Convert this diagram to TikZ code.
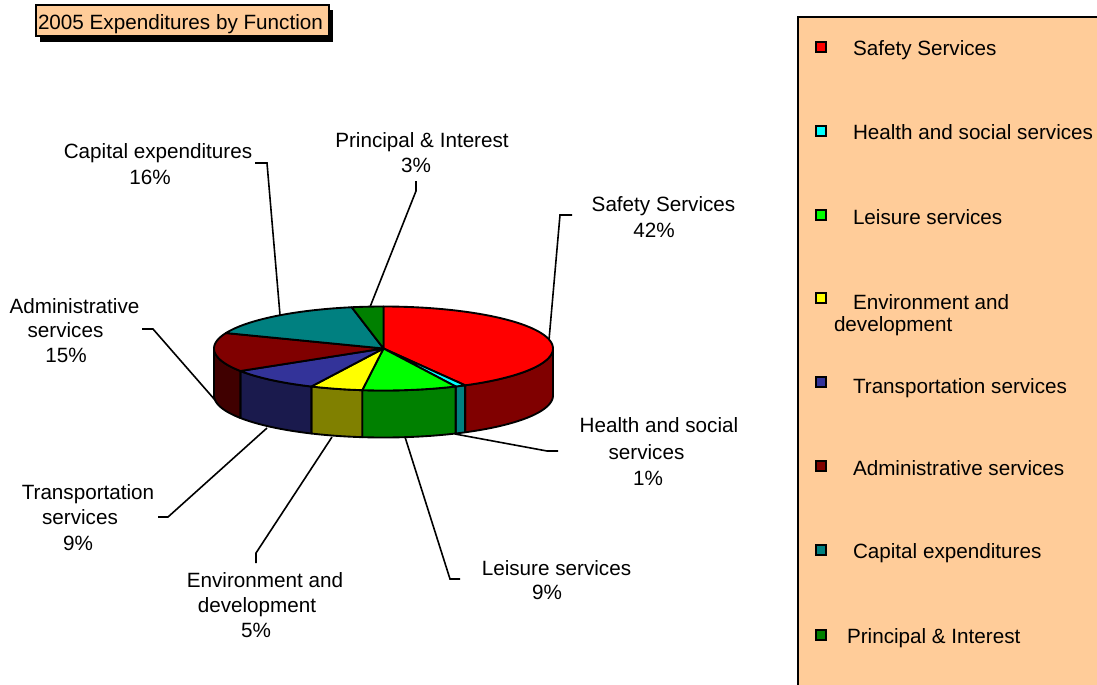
\documentclass[tikz,border=0pt]{standalone}
\usepackage{fontspec}
\setmainfont{Liberation Sans}
\definecolor{peach}{HTML}{FFCC99}
\definecolor{cSafT}{HTML}{FF0000}\definecolor{cSafS}{HTML}{800000}
\definecolor{cHeaT}{HTML}{00FFFF}\definecolor{cHeaS}{HTML}{008080}
\definecolor{cLeiT}{HTML}{00FF00}\definecolor{cLeiS}{HTML}{008000}
\definecolor{cEnvT}{HTML}{FFFF00}\definecolor{cEnvS}{HTML}{808000}
\definecolor{cTraT}{HTML}{333399}\definecolor{cTraS}{HTML}{1A1A4D}
\definecolor{cAdmT}{HTML}{800000}\definecolor{cAdmS}{HTML}{400000}
\definecolor{cCapT}{HTML}{008080}
\definecolor{cPriT}{HTML}{008000}
\def\pcx{383.5}\def\pcy{348.5}\def\pra{169.5}\def\prb{42}\def\pdep{47}
\newcommand\mypieside[3]{%
  \filldraw[fill=#3,pieedge] plot[domain=#1:#2,samples=40] ({\pcx+\pra*cos(\x)},{\pcy-\prb*sin(\x)})
    -- plot[domain=#2:#1,samples=40] ({\pcx+\pra*cos(\x)},{\pcy+\pdep-\prb*sin(\x)}) -- cycle;}
\newcommand\mypietop[3]{%
  \filldraw[fill=#3,pieedge] (\pcx,\pcy) -- plot[domain=#1:#2,samples=60] ({\pcx+\pra*cos(\x)},{\pcy-\prb*sin(\x)}) -- cycle;}
\begin{document}
\begin{tikzpicture}[x=0.75pt,y=-0.75pt,
  every node/.style={font=\fontsize{15.5pt}{18pt}\selectfont, inner sep=0pt, outer sep=0pt},
  lbl/.style={anchor=base},
  lgtext/.style={anchor=base west},
  lgmark/.style={draw=black, line width=1.5pt, minimum width=7.5pt, minimum height=7.5pt},
  pieedge/.style={draw=black, line width=1.4pt, line join=round},
  leader/.style={draw=black, line width=1.2pt}]
\useasboundingbox (0,0) rectangle (1097,685);
\clip (0,0) rectangle (1097,685);
\fill[white] (0,0) rectangle (1097,685);

% title
\fill[black] (40,10) rectangle (333,42);
\draw[fill=peach, line width=1.5pt] (36,5) rectangle (329,36.5);
\node[lgtext] (title) at (38,29.5) {2005 Expenditures by Function};

% legend
\draw[fill=peach, line width=1.5pt] (798,17) rectangle (1105,695);
\node[lgmark, fill=cSafT] (m1) at (821,47) {};
\node[lgmark, fill=cHeaT] (m2) at (821,131) {};
\node[lgmark, fill=cLeiT] (m3) at (821,215) {};
\node[lgmark, fill=cEnvT] (m4) at (821,298) {};
\node[lgmark, fill=cTraT] (m5) at (821,382) {};
\node[lgmark, fill=cAdmT] (m6) at (821,466) {};
\node[lgmark, fill=cCapT] (m7) at (821,550) {};
\node[lgmark, fill=cPriT] (m8) at (821,635) {};
\node[lgtext] (t1) at (853,56) {Safety Services};
\node[lgtext] (t2) at (853,140) {Health and social services};
\node[lgtext] (t3) at (853,224) {Leisure services};
\node[lgtext] (t4a) at (853,309) {Environment and};
\node[lgtext] (t4b) at (834,331) {development};
\node[lgtext] (t5) at (853,393) {Transportation services};
\node[lgtext] (t6) at (853,475) {Administrative services};
\node[lgtext] (t7) at (853,558) {Capital expenditures};
\node[lgtext] (t8) at (847,643) {Principal \& Interest};

% labels
\node[lbl] (capA) at (158,159) {Capital expenditures};
\node[lbl] (capB) at (150,185) {16\%};
\node[lbl] (priA) at (422,147) {Principal \& Interest};
\node[lbl] (priB) at (416,172) {3\%};
\node[lbl] (safA) at (663.5,211) {Safety Services};
\node[lbl] (safB) at (654,237) {42\%};
\node[lbl] (heaA) at (659,432) {Health and social};
\node[lbl] (heaB) at (646.5,459) {services};
\node[lbl] (heaC) at (648,485) {1\%};
\node[lbl] (leiA) at (556.5,575) {Leisure services};
\node[lbl] (leiB) at (547,599) {9\%};
\node[lbl] (envA) at (265,587) {Environment and};
\node[lbl] (envB) at (257,612) {development};
\node[lbl] (envC) at (256,637) {5\%};
\node[lbl] (traA) at (88,499) {Transportation};
\node[lbl] (traB) at (80,524) {services};
\node[lbl] (traC) at (78,550) {9\%};
\node[lbl] (admA) at (74.5,313) {Administrative};
\node[lbl] (admB) at (65.5,337) {services};
\node[lbl] (admC) at (66,362) {15\%};

% leader coordinates
\coordinate (capT) at (255,163); \coordinate (capK) at (267,163); \coordinate (capP) at (280,315);
\coordinate (priT) at (416,181); \coordinate (priK) at (416,191); \coordinate (priP) at (370,307);
\coordinate (safT) at (572,215); \coordinate (safK) at (560,215); \coordinate (safP) at (549,340);
\coordinate (heaT) at (558,451); \coordinate (heaK) at (547,451); \coordinate (heaP) at (455,434);
\coordinate (leiT) at (460,579); \coordinate (leiK) at (450,579); \coordinate (leiP) at (405,437);
\coordinate (envT) at (256,563); \coordinate (envK) at (256,553); \coordinate (envP) at (332,437);
\coordinate (traT) at (158,517); \coordinate (traK) at (168,517); \coordinate (traP) at (267,428);
\coordinate (admT) at (142,329); \coordinate (admK) at (153,329); \coordinate (admP) at (215,400);
\draw[leader] (capT) -- (capK) -- (capP);
\draw[leader] (priT) -- (priK) -- (priP);
\draw[leader] (safT) -- (safK) -- (safP);
\draw[leader] (heaT) -- (heaK) -- (heaP);
\draw[leader] (leiT) -- (leiK) -- (leiP);
\draw[leader] (envT) -- (envK) -- (envP);
\draw[leader] (traT) -- (traK) -- (traP);
\draw[leader] (admT) -- (admK) -- (admP);

% pie sides
\mypieside{0}{-61.2}{cSafS}
\mypieside{-61.2}{-64.8}{cHeaS}
\mypieside{-64.8}{-97.2}{cLeiS}
\mypieside{-97.2}{-115.2}{cEnvS}
\mypieside{-115.2}{-147.6}{cTraS}
\mypieside{-147.6}{-180}{cAdmS}
% pie top
\mypietop{90}{-61.2}{cSafT}
\mypietop{-61.2}{-64.8}{cHeaT}
\mypietop{-64.8}{-97.2}{cLeiT}
\mypietop{-97.2}{-115.2}{cEnvT}
\mypietop{-115.2}{-147.6}{cTraT}
\mypietop{-147.6}{-201.6}{cAdmT}
\mypietop{-201.6}{-259.2}{cCapT}
\mypietop{-259.2}{-270}{cPriT}
\end{tikzpicture}
\end{document}
